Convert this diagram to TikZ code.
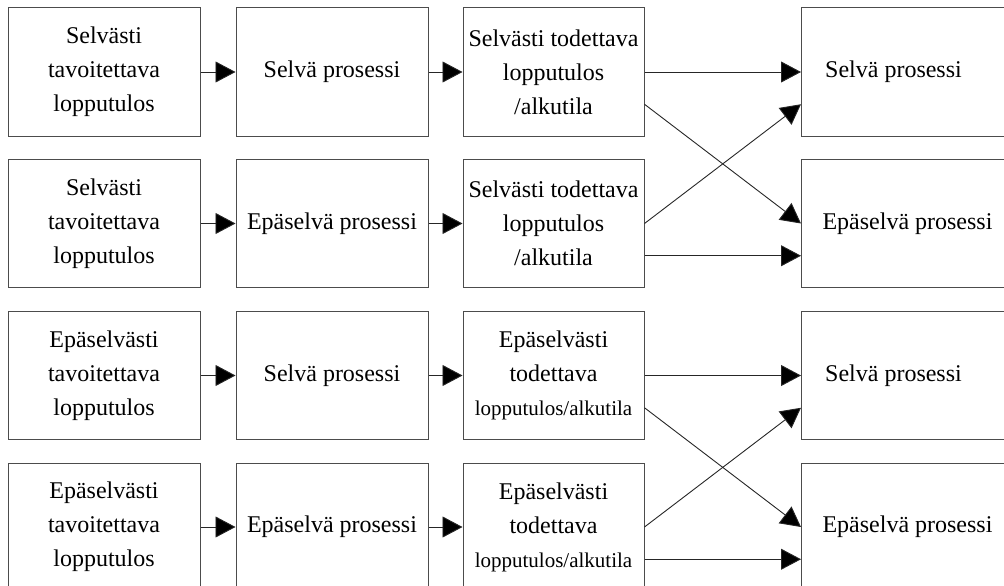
\documentclass[tikz,border=0pt]{standalone}
\usepackage{fontspec}
\setmainfont{Liberation Serif}
\usetikzlibrary{arrows.meta,calc}
\newcommand\rightcell[2]{\makebox[#1]{#2}\hspace*{\dimexpr260pt-#1\relax}}
\begin{document}
\begin{tikzpicture}[x=1pt,y=-1pt,
  box/.style={draw=black!70,line width=1pt,minimum height=128pt,inner sep=0pt,
    align=center,font=\fontsize{24}{34}\selectfont},
  wbox/.style={box,minimum width=192pt},
  cbox/.style={box,minimum width=181pt},
  dbox/.style={box,anchor=west},
  conn/.style={draw=black!85,line width=0.9pt,-{Triangle[length=20pt,width=21pt,fill=black]}}]
\useasboundingbox (0,0) rectangle (1004,586);
\clip (0,0) rectangle (1004,586);
% row 1
\node[wbox] (A1) at (104,72) {Selvästi\\tavoitettava\\lopputulos};
\node[wbox] (B1) at (332,72) {Selvä prosessi};
\node[cbox] (C1) at (553.5,72) {Selvästi todettava\\lopputulos\\/alkutila};
\node[dbox] (D1) at (801,72) {\rightcell{184pt}{Selvä prosessi}};
% row 2
\node[wbox] (A2) at (104,223.5) {Selvästi\\tavoitettava\\lopputulos};
\node[wbox] (B2) at (332,223.5) {Epäselvä prosessi};
\node[cbox] (C2) at (553.5,223.5) {Selvästi todettava\\lopputulos\\/alkutila};
\node[dbox] (D2) at (801,223.5) {\rightcell{212pt}{Epäselvä prosessi}};
% row 3
\node[wbox] (A3) at (104,375.5) {Epäselvästi\\tavoitettava\\lopputulos};
\node[wbox] (B3) at (332,375.5) {Selvä prosessi};
\node[cbox] (C3) at (553.5,375.5) {Epäselvästi\\todettava\\{\fontsize{21}{32}\selectfont lopputulos/alkutila}};
\node[dbox] (D3) at (801,375.5) {\rightcell{184pt}{Selvä prosessi}};
% row 4
\node[wbox] (A4) at (104,527) {Epäselvästi\\tavoitettava\\lopputulos};
\node[wbox] (B4) at (332,527) {Epäselvä prosessi};
\node[cbox] (C4) at (553.5,527) {Epäselvästi\\todettava\\{\fontsize{21}{32}\selectfont lopputulos/alkutila}};
\node[dbox] (D4) at (801,527) {\rightcell{212pt}{Epäselvä prosessi}};
% connectors
\foreach \r in {1,2,3,4}{
  \draw[conn] (A\r.east) -- (B\r.west);
  \draw[conn] (B\r.east) -- (C\r.west);
}
\foreach \u/\l in {1/2,3/4}{
  \draw[conn] (C\u.east) -- (D\u.west);
  \draw[conn] ($(C\u.east)!0.5!(C\u.south east)$) -- (D\l.west);
  \draw[conn] (C\l.east) -- ($(D\u.west)!0.5!(D\u.south west)$);
  \draw[conn] ($(C\l.east)!0.5!(C\l.south east)$) -- ($(D\l.west)!0.5!(D\l.south west)$);
}
\end{tikzpicture}
\end{document}
